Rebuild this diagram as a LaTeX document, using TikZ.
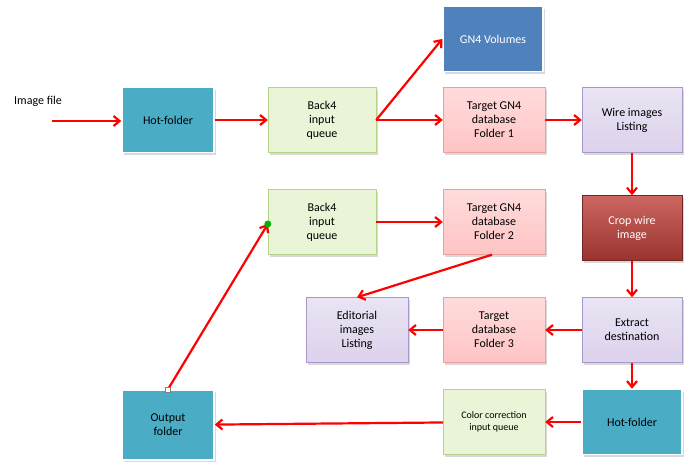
\documentclass[tikz,border=0pt]{standalone}
\usepackage{fontspec}
\setmainfont{Carlito}
\usetikzlibrary{arrows.meta,positioning,shadows}
\definecolor{tealbox}{HTML}{4BACC6}
\definecolor{bluebox}{HTML}{4F81BD}
\definecolor{greenbox}{HTML}{EAF4D6}
\definecolor{greenline}{HTML}{B5D38A}
\definecolor{pinkbox}{HTML}{FFC4C4}
\definecolor{pinkline}{HTML}{E8A0A0}
\definecolor{lilacbox}{HTML}{DCD2EC}
\definecolor{lilacline}{HTML}{A898C8}
\definecolor{redbox}{HTML}{C0403A}
\begin{document}
\begin{tikzpicture}[x=1pt, y=-1pt,
  font=\fontsize{12}{14}\selectfont,
  box_style/.style={rectangle, minimum width=100pt, minimum height=65pt, align=center, inner sep=2pt, drop shadow={opacity=0.3, shadow xshift=2pt, shadow yshift=-2pt}},
  teal_style/.style={box_style, fill=tealbox, draw=white, line width=1.5pt, minimum width=92pt},
  blue_style/.style={box_style, fill=bluebox, draw=white, line width=1.5pt, text=white},
  green_style/.style={box_style, fill=greenbox, draw=greenline, minimum width=108pt},
  pink_style/.style={box_style, top color=pinkbox!60, bottom color=pinkbox, draw=pinkline, minimum width=102pt},
  lilac_style/.style={box_style, top color=lilacbox!60, bottom color=lilacbox, draw=lilacline},
  red_style/.style={box_style, top color=redbox!80!white, bottom color=redbox!80!black, draw=redbox!60!black, text=white},
  arrow_style/.style={draw=red, line width=2.2pt, -{Straight Barb[length=6pt,width=10pt]}}]
  \useasboundingbox (0,0) rectangle (692,463);

  \node (img) at (38,101) {Image file};
  \coordinate (imgend) at (52,121);
  \node (hot1) [teal_style] at (168,120) {Hot-folder};
  \node (back1) [green_style] at (322,120) {Back4\\input\\queue};
  \node (vol) [blue_style] at (493,39) {GN4 Volumes};
  \node (tgt1) [pink_style] at (494,120) {Target GN4\\database\\Folder 1};
  \node (wire) [lilac_style] at (632,120) {Wire images\\Listing};
  \node (crop) [red_style] at (632,228) {Crop wire\\image};
  \node (back2) [green_style] at (322,222) {Back4\\input\\queue};
  \node (tgt2) [pink_style] at (494,222) {Target GN4\\database\\Folder 2};
  \node (edit) [lilac_style, minimum width=102pt] at (357,330) {Editorial\\images\\Listing};
  \node (tgt3) [pink_style] at (494,330) {Target\\database\\Folder 3};
  \node (extr) [lilac_style] at (632,330) {Extract\\destination};
  \node (out) [teal_style, minimum height=70pt] at (168,425) {Output\\folder};
  \node (cc) [green_style, minimum width=102pt, font=\fontsize{10}{12}\selectfont] at (494,422) {Color correction\\input queue};
  \node (hot2) [teal_style, minimum width=100pt] at (632,422) {Hot-folder};
  %
  \draw [arrow_style] (imgend) -- (hot1.west |- imgend);
  \draw [arrow_style] (hot1) -- (back1);
  \draw [arrow_style] (back1.east) -- (vol.west);
  \draw [arrow_style] (back1) -- (tgt1);
  \draw [arrow_style] (tgt1) -- (wire);
  \draw [arrow_style] (wire) -- (crop);
  \draw [arrow_style] (crop) -- (extr);
  \draw [arrow_style] (extr) -- (tgt3);
  \draw [arrow_style] (tgt3) -- (edit);
  \draw [arrow_style] (back2) -- (tgt2);
  \draw [arrow_style] ([xshift=-2pt]tgt2.south) -- (edit.north);
  \draw [arrow_style] (extr) -- (hot2);
  \draw [arrow_style] (hot2) -- (cc);
  \draw [arrow_style] (cc) -- (out);
  \draw [arrow_style] (out.north) -- ([yshift=-2pt]back2.west);
  \fill [green!70!black] ([yshift=-2pt]back2.west) circle (3.5pt);
  \draw [gray, fill=white] ([xshift=-2.5pt,yshift=-2.5pt]out.north) rectangle ([xshift=2.5pt,yshift=2.5pt]out.north);
\end{tikzpicture}
\end{document}
